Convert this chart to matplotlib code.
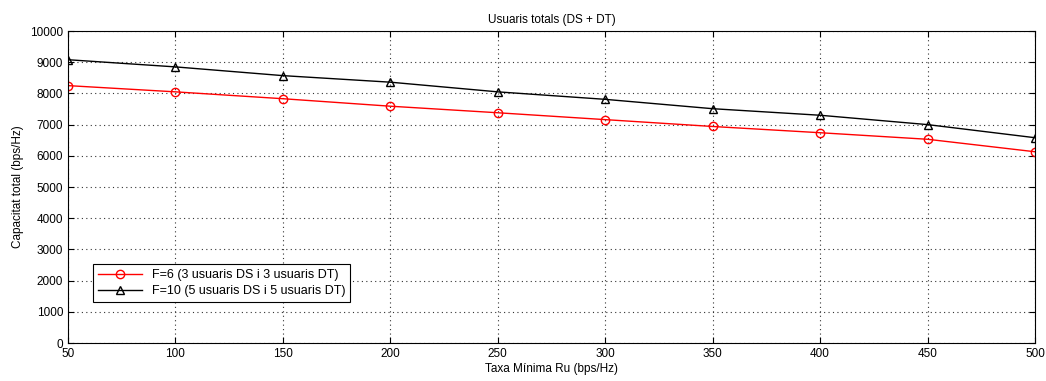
import matplotlib
matplotlib.use("Agg")
import matplotlib.pyplot as plt

plt.rcParams['font.family'] = ['Liberation Sans', 'DejaVu Sans']

x = [50, 100, 150, 200, 250, 300, 350, 400, 450, 500]
f6 = [8250, 8050, 7830, 7590, 7380, 7160, 6940, 6740, 6530, 6130]
f10 = [9080, 8850, 8570, 8360, 8050, 7810, 7510, 7300, 7000, 6580]
labels = ['F=6 (3 usuaris DS i 3 usuaris DT)', 'F=10 (5 usuaris DS i 5 usuaris DT)']

fig = plt.figure(figsize=(10.46, 3.81), dpi=100)
ax = fig.add_axes([0.065, 0.0997, 0.9245, 0.8189])
ax.plot(x, f6, color='red', marker='o', markersize=6, markerfacecolor='none',
        linewidth=1, label=labels[0])
ax.plot(x, f10, color='black', marker='^', markersize=6, markerfacecolor='none',
        linewidth=1, label=labels[1])
ax.set_xlim(50, 500)
ax.set_ylim(0, 10000)
ax.set_xticks(range(50, 501, 50))
ax.set_yticks(range(0, 10001, 1000))
ax.grid(True, linestyle=(0, (1, 3)), color='#333333', linewidth=0.8)
ax.tick_params(direction='in', top=True, right=True, labelsize=8.5, length=4)
ax.set_title('Usuaris totals (DS + DT)', fontsize=8.5)
ax.set_xlabel('Taxa Mínima Ru (bps/Hz)', fontsize=8.5, labelpad=2)
ax.set_ylabel('Capacitat total (bps/Hz)', fontsize=8.5)
leg = ax.legend(loc='lower left', bbox_to_anchor=(0.026, 0.131), fontsize=9,
                fancybox=False, edgecolor='black', framealpha=1,
                borderaxespad=0, handlelength=3.5, borderpad=0.4, labelspacing=0.3)
leg.get_frame().set_linewidth(0.8)
fig.savefig('out.png', dpi=100)
